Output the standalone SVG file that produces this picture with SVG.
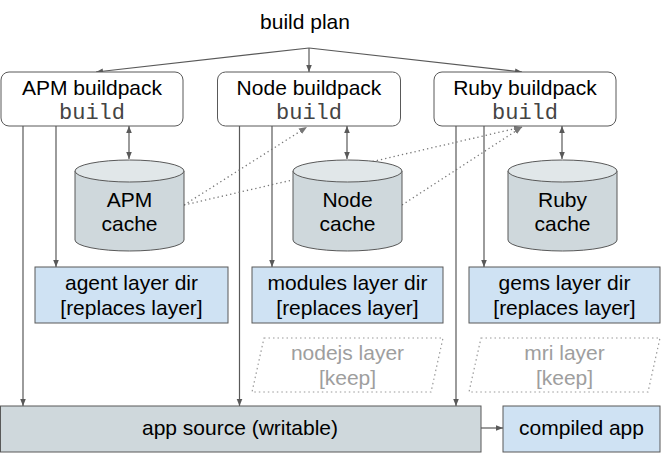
<svg xmlns="http://www.w3.org/2000/svg" width="661" height="453" viewBox="0 0 661 453">
<defs>
<marker id="ah" viewBox="0 0 10 10" refX="10" refY="5" markerWidth="7" markerHeight="7" markerUnits="userSpaceOnUse" orient="auto-start-reverse"><path d="M0,1 L10,5 L0,9 Z" fill="#595959"/></marker>
<marker id="ahd" viewBox="0 0 10 10" refX="10" refY="5" markerWidth="8" markerHeight="8" markerUnits="userSpaceOnUse" orient="auto"><path d="M0,1 L10,5 L0,9 Z" fill="#777"/></marker>
<style>
text{font-family:"Liberation Sans",Arial,sans-serif;font-size:21px;fill:#000;text-anchor:middle}
.mono{font-family:"Liberation Mono","Courier New",monospace;font-size:22px;fill:#444}
.bp{fill:#fff;stroke:#595959;stroke-width:1}
.dir{fill:#cfe2f3;stroke:#595959;stroke-width:1}
.cyl{fill:#cfd8dc;stroke:#595959;stroke-width:1}
.cyltop{fill:#e1e7e9;stroke:#595959;stroke-width:1}
.keep{fill:none;stroke:#999;stroke-width:1.2;stroke-dasharray:1.5 3}
.gray{fill:#9e9e9e}
.src{fill:#cfd8dc;stroke:#595959;stroke-width:1}
.c{fill:none;stroke:#595959;stroke-width:1.2}
.a{marker-end:url(#ah)}
.d{fill:none;stroke:#777;stroke-width:1.3;stroke-dasharray:1.3 3;marker-end:url(#ahd)}
</style>
</defs>

<g id="title"><text x="305" y="29">build plan</text></g>

<g id="connectors">
<path class="c a" d="M309,48 L96,72"/>
<path class="c a" d="M309,48 L309,72"/>
<path class="c a" d="M309,48 L522,72"/>
<path class="c a" d="M23,126 L23,406"/>
<path class="c a" d="M56,126 L56,267"/>
<path class="c a" d="M129,126 L129,159" style="marker-start:url(#ah)"/>
<path class="c a" d="M239.5,126 L239.5,406"/>
<path class="c a" d="M272,126 L272,267"/>
<path class="c a" d="M347,126 L347,159" style="marker-start:url(#ah)"/>
<path class="c a" d="M456,126 L456,406"/>
<path class="c a" d="M484,126 L484,267"/>
<path class="c a" d="M562,126 L562,159" style="marker-start:url(#ah)"/>
<path class="c a" d="M481,428 L503,428"/>
<path class="d" d="M184,205 L307,127"/>
<path class="d" d="M184,205 L522,127"/>
<path class="d" d="M402,205 L522,127"/>
</g>

<g id="apm-buildpack"><rect class="bp" x="1" y="72" width="182" height="54" rx="8"/><text x="92" y="95">APM buildpack</text><text class="mono" x="92" y="119">build</text></g>
<g id="node-buildpack"><rect class="bp" x="217.5" y="72" width="183" height="54" rx="8"/><text x="309" y="95">Node buildpack</text><text class="mono" x="309" y="119">build</text></g>
<g id="ruby-buildpack"><rect class="bp" x="434" y="72" width="182" height="54" rx="8"/><text x="525" y="95">Ruby buildpack</text><text class="mono" x="525" y="119">build</text></g>

<g id="apm-cache"><path class="cyl" d="M75,171 L75,240 A54.5,11 0 0 0 184,240 L184,171 Z"/><ellipse class="cyltop" cx="129.5" cy="171" rx="54.5" ry="11"/><text x="129.5" y="207">APM</text><text x="129.5" y="231">cache</text></g>
<g id="node-cache"><path class="cyl" d="M293,171 L293,240 A54.5,11 0 0 0 402,240 L402,171 Z"/><ellipse class="cyltop" cx="347.5" cy="171" rx="54.5" ry="11"/><text x="347.5" y="207">Node</text><text x="347.5" y="231">cache</text></g>
<g id="ruby-cache"><path class="cyl" d="M508,171 L508,240 A54.5,11 0 0 0 617,240 L617,171 Z"/><ellipse class="cyltop" cx="562.5" cy="171" rx="54.5" ry="11"/><text x="562.5" y="207">Ruby</text><text x="562.5" y="231">cache</text></g>

<g id="agent-layer"><rect class="dir" x="35" y="267" width="193" height="56"/><text x="131.5" y="290">agent layer dir</text><text x="131.5" y="315">[replaces layer]</text></g>
<g id="modules-layer"><rect class="dir" x="252" y="267" width="191" height="56"/><text x="347.5" y="290">modules layer dir</text><text x="347.5" y="315">[replaces layer]</text></g>
<g id="gems-layer"><rect class="dir" x="469" y="267" width="191" height="56"/><text x="564.5" y="290">gems layer dir</text><text x="564.5" y="315">[replaces layer]</text></g>

<g id="nodejs-layer"><path class="keep" d="M264,338 L443,338 L431,392 L252,392 Z"/><text class="gray" x="347.5" y="360">nodejs layer</text><text class="gray" x="347.5" y="385">[keep]</text></g>
<g id="mri-layer"><path class="keep" d="M481,338 L660,338 L648,392 L469,392 Z"/><text class="gray" x="564.5" y="360">mri layer</text><text class="gray" x="564.5" y="385">[keep]</text></g>

<g id="app-source"><rect class="src" x="0.5" y="406" width="480.5" height="46"/><text x="240" y="435">app source (writable)</text></g>
<g id="compiled-app"><rect class="dir" x="503" y="406" width="157" height="46"/><text x="581.5" y="435">compiled app</text></g>
</svg>
